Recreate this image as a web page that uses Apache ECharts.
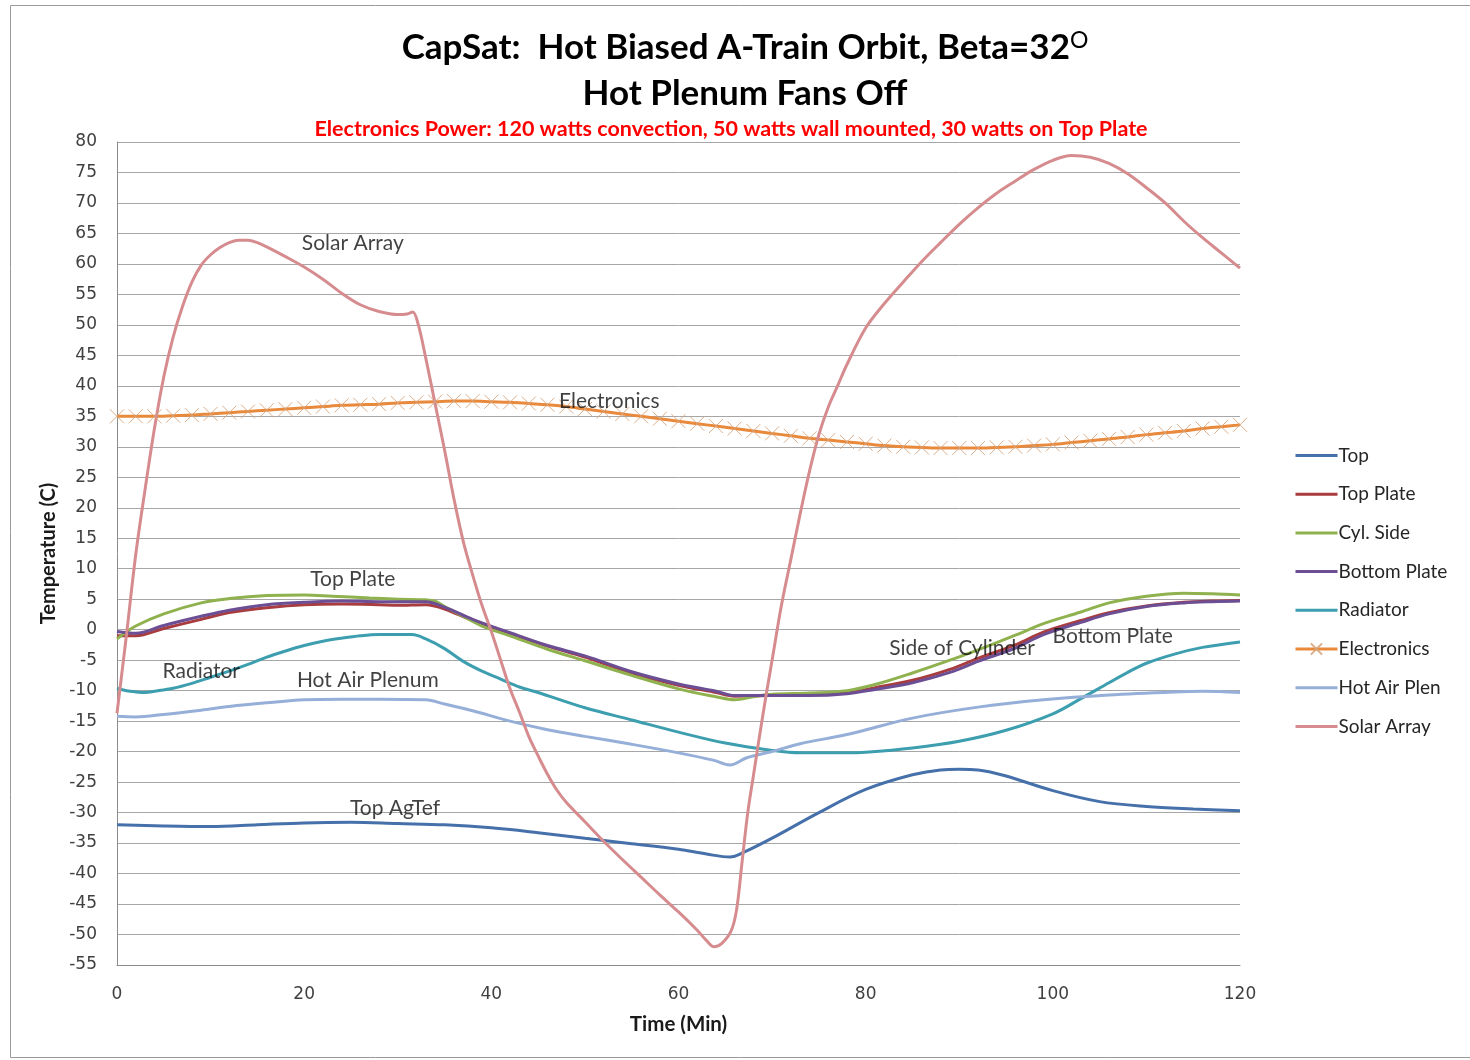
<!DOCTYPE html>
<html lang="en">
<head>
    <meta charset="UTF-8">
    <title>CapSat</title>
    <style>
        html, body { margin: 0; padding: 0; background: #fff; }
    </style>
</head>
<body>
<script src="https://cdn.jsdelivr.net/npm/echarts@6/dist/echarts.min.js"></script>
<div id="main" style="width:1470px;height:1060px;"></div>

<script type="text/javascript">
    // data (time in minutes, temperature in C)
    var topTime = [0, 5, 10, 15, 20, 25, 30, 35, 40, 45, 50, 55, 60, 63, 65.5, 67, 70, 75, 80, 85, 88, 90, 92, 95, 100, 105, 110, 115, 120];
    var topTemp = [-32.0, -32.2, -32.3, -32.0, -31.7, -31.6, -31.8, -32.0, -32.5, -33.3, -34.2, -35.1, -36.0, -36.8, -37.3, -36.5, -34.2, -30.0, -26.2, -23.8, -23.0, -22.9, -23.0, -24.0, -26.4, -28.2, -29.0, -29.4, -29.7];

    var plateTime = [0, 2, 5, 9, 12, 16, 20, 24, 28, 30, 33, 35, 38, 42, 46, 50, 55, 60, 64, 66, 70, 74, 78, 81, 85, 89, 92, 96, 99, 103, 106, 110, 114, 117, 120];
    var topPlate = [-1.0, -1.0, 0.2, 1.7, 2.8, 3.6, 4.1, 4.2, 4.1, 4.0, 4.1, 3.4, 1.5, -0.6, -2.7, -4.5, -7.1, -9.1, -10.3, -10.9, -10.8, -10.6, -10.3, -9.5, -8.3, -6.5, -4.7, -2.5, -0.4, 1.5, 2.8, 3.9, 4.5, 4.7, 4.8];
    var bottomPlate = [-0.3, -0.6, 0.7, 2.2, 3.2, 4.1, 4.5, 4.7, 4.6, 4.6, 4.6, 3.7, 1.7, -0.5, -2.6, -4.3, -6.9, -8.9, -10.1, -10.8, -10.8, -10.8, -10.5, -9.8, -8.7, -7.0, -5.2, -3.0, -0.8, 1.2, 2.6, 3.8, 4.4, 4.6, 4.7];

    var cylTime = [0, 2, 5, 9, 12, 16, 20, 23, 27, 30, 33, 34, 35, 37, 39, 42, 46, 50, 55, 60, 64, 66, 68, 70, 74, 78, 81, 85, 89, 92, 96, 99, 103, 106, 110, 114, 117, 120];
    var cylSide = [-1.5, 0.6, 2.6, 4.4, 5.1, 5.6, 5.7, 5.5, 5.2, 5.0, 4.9, 4.7, 3.8, 2.2, 0.6, -1.0, -3.2, -5.1, -7.5, -9.7, -11.0, -11.5, -11.0, -10.6, -10.4, -10.0, -9.0, -7.1, -5.0, -3.3, -0.9, 1.0, 2.9, 4.4, 5.5, 6.0, 5.9, 5.7];

    var radTime = [0, 1, 2, 3, 4, 6, 8, 10, 12, 14, 16, 18, 20, 22, 24, 26, 28, 30, 31.5, 33, 35, 37, 39, 41, 43, 45, 50, 55, 60, 65, 70, 73, 78, 80, 85, 90, 95, 100, 103, 106, 108, 110, 113, 116, 120];
    var radiator = [-9.6, -10.0, -10.2, -10.3, -10.1, -9.6, -8.8, -7.8, -6.8, -5.7, -4.5, -3.5, -2.6, -1.9, -1.4, -1.0, -0.8, -0.8, -0.8, -1.5, -3.1, -5.2, -6.8, -8.1, -9.4, -10.3, -12.8, -14.8, -16.8, -18.6, -19.8, -20.2, -20.2, -20.1, -19.4, -18.3, -16.5, -13.8, -11.3, -8.7, -7.0, -5.5, -4.0, -2.9, -2.0];

    var elecTemp = [35.0, 35.0, 35.0, 35.1, 35.2, 35.4, 35.6, 35.8, 36.0, 36.2, 36.4, 36.6, 36.8, 36.9, 37.0, 37.2, 37.3, 37.4, 37.5, 37.5,
        37.4, 37.3, 37.1, 36.9, 36.6, 36.2, 35.8, 35.4, 35.0, 34.6, 34.2, 33.8, 33.4, 33.0, 32.6, 32.2, 31.8, 31.4, 31.1, 30.8,
        30.5, 30.2, 30.0, 29.9, 29.8, 29.8, 29.8, 29.9, 30.0, 30.2, 30.4, 30.7, 31.0, 31.3, 31.6, 32.0, 32.3, 32.6, 33.0, 33.3, 33.6];
    var elecTime = elecTemp.map(function (v, i) { return i * 2; });

    var plenTime = [0, 2, 5, 9, 12, 16, 20, 24, 28, 33, 35, 38, 42, 46, 50, 55, 60, 63.7, 65.5, 67.3, 70, 73, 78, 85, 92, 99, 106, 113, 116, 120];
    var hotAir = [-14.2, -14.3, -13.9, -13.2, -12.6, -12.0, -11.5, -11.4, -11.4, -11.5, -12.2, -13.3, -15.0, -16.4, -17.5, -18.8, -20.2, -21.4, -22.2, -21.0, -20.0, -18.7, -17.2, -14.5, -12.7, -11.5, -10.7, -10.2, -10.1, -10.3];

    var solarTime = [0, 1, 2, 3, 4, 5, 6, 7, 8, 9, 10, 11, 12, 13, 14, 15, 16, 18, 20, 22, 24, 26, 28, 30, 31, 31.6, 32.2, 33, 34, 35, 36, 37, 38, 39, 40, 41, 42, 43, 44, 45, 46, 47, 48, 50, 52, 54, 56, 58, 60, 62, 63, 63.8, 64.6, 65.6, 66.2, 66.8, 67.4, 68, 68.6, 69.4, 70, 71, 72, 73, 74, 75, 76, 77, 78, 80, 82, 84, 86, 88, 90, 92, 94, 96, 98, 100, 102, 104, 106, 108, 110, 112, 114, 116, 118, 120];
    var solarArray = [-13.7, -1.0, 12.3, 23.0, 33.0, 41.5, 48.0, 53.0, 57.0, 59.8, 61.5, 62.7, 63.5, 63.9, 63.9, 63.5, 62.8, 61.2, 59.5, 57.5, 55.2, 53.3, 52.2, 51.7, 51.8, 52.1, 50.0, 44.5, 37.0, 29.5, 21.5, 14.5, 9.0, 4.0, -0.3, -5.0, -9.7, -13.5, -17.5, -20.7, -23.7, -26.3, -28.3, -31.5, -34.7, -37.7, -40.6, -43.5, -46.3, -49.3, -51.0, -52.0, -51.5, -49.5, -46.0, -38.0, -30.0, -24.0, -18.0, -10.4, -5.0, 4.0, 11.5, 19.0, 26.0, 32.0, 36.5, 40.0, 43.5, 49.5, 53.5, 57.0, 60.4, 63.5, 66.5, 69.2, 71.6, 73.6, 75.5, 77.0, 77.8, 77.5, 76.5, 74.8, 72.5, 70.0, 67.0, 64.3, 61.8, 59.3];

    // text notes inside the plot: [time, temp, text]
    var notes = [
        [25.2, 63.4, 'Solar Array'],
        [52.6, 37.5, 'Electronics'],
        [25.2, 8.2, 'Top Plate'],
        [9.0, -6.8, 'Radiator'],
        [26.8, -8.3, 'Hot Air Plenum'],
        [29.7, -29.3, 'Top AgTef'],
        [90.3, -3.0, 'Side of Cylinder'],
        [106.4, -1.0, 'Bottom Plate']
    ];

    var legendNames = ['Top', 'Top Plate', 'Cyl. Side', 'Bottom Plate', 'Radiator', 'Electronics', 'Hot Air Plen', 'Solar Array'];

    function pairs(xs, ys) {
        return xs.map(function (x, i) { return [x, ys[i]]; });
    }

    function lineSeries(name, xs, ys, color) {
        return {
            name: name,
            type: 'line',
            data: pairs(xs, ys),
            smooth: 0.35,
            symbol: 'none',
            color: color,
            lineStyle: { width: 3, color: color },
            emphasis: { disabled: true },
            animation: false
        };
    }

    var font = 'Lato';
    var myChart = echarts.init(document.getElementById('main'));

    var seriesArr = [
        lineSeries('Top', topTime, topTemp, '#4670AA'),
        lineSeries('Top Plate', plateTime, topPlate, '#A83C3E'),
        lineSeries('Cyl. Side', cylTime, cylSide, '#8FB14E'),
        lineSeries('Bottom Plate', plateTime, bottomPlate, '#6B4E93'),
        lineSeries('Radiator', radTime, radiator, '#3C9EAF'),
        {
            name: 'Electronics',
            type: 'line',
            data: pairs(elecTime, elecTemp),
            smooth: 0.35,
            symbol: 'path://M0,0 L10,10 M10,0 L0,10',
            symbolSize: 14,
            showAllSymbol: true,
            color: '#E8893C',
            itemStyle: { color: '#E8893C', borderColor: 'rgba(215,165,125,0.9)', borderWidth: 1 },
            lineStyle: { width: 3, color: '#E8893C' },
            emphasis: { disabled: true },
            animation: false
        },
        lineSeries('Hot Air Plen', plenTime, hotAir, '#96AFD8'),
        lineSeries('Solar Array', solarTime, solarArray, '#D68C8F'),
        {
            name: 'notes',
            type: 'scatter',
            data: notes.map(function (n) { return { value: [n[0], n[1]], name: n[2] }; }),
            symbolSize: 0,
            silent: true,
            z: 10,
            label: {
                show: true,
                position: 'inside',
                formatter: function (p) { return p.name; },
                fontFamily: font,
                fontSize: 21,
                color: '#111'
            },
            animation: false
        }
    ];

    option = {
        backgroundColor: '#fff',
        textStyle: { fontFamily: font },
        title: [
            {
                text: 'CapSat:  Hot Biased A-Train Orbit, Beta=32{sup|O}',
                left: 740,
                top: 24,
                textAlign: 'center',
                textStyle: {
                    fontFamily: font,
                    fontSize: 35,
                    fontWeight: 'bold',
                    color: '#000',
                    rich: {
                        sup: { fontFamily: font, fontSize: 23, fontWeight: 'normal', color: '#000', verticalAlign: 'top', padding: [0, 0, 15, 0] }
                    }
                }
            },
            {
                text: 'Hot Plenum Fans Off',
                left: 740,
                top: 71,
                textAlign: 'center',
                textStyle: { fontFamily: font, fontSize: 35, fontWeight: 'bold', color: '#000' }
            },
            {
                text: 'Electronics Power: 120 watts convection, 50 watts wall mounted, 30 watts on Top Plate',
                left: 726,
                top: 113,
                textAlign: 'center',
                textStyle: { fontFamily: font, fontSize: 21.5, fontWeight: 'bold', color: '#FF0000' }
            }
        ],
        graphic: [{
            type: 'rect',
            shape: { x: 10.5, y: 5.5, width: 1480, height: 1052 },
            style: { fill: 'none', stroke: '#9a9a9a', lineWidth: 1 },
            silent: true
        }],
        legend: {
            data: legendNames.map(function (n) {
                return n === 'Electronics' ? { name: n } : { name: n, itemStyle: { opacity: 0 } };
            }),
            orient: 'vertical',
            left: 1289,
            top: 441,
            itemWidth: 42,
            itemHeight: 14,
            itemGap: 19.7,
            selectedMode: false,
            lineStyle: { width: 3 },
            textStyle: { fontFamily: font, fontSize: 19, color: '#262626', padding: [0, 0, 0, -4] }
        },
        grid: {
            left: 117,
            right: 230,
            top: 142,
            bottom: 95
        },
        xAxis: {
            type: 'value',
            min: 0,
            max: 120,
            interval: 20,
            name: 'Time (Min)',
            nameLocation: 'middle',
            nameGap: 49,
            nameTextStyle: { fontFamily: font, fontSize: 20.5, fontWeight: 'bold', color: '#1a1a1a' },
            axisLine: { show: true, onZero: false, lineStyle: { color: '#8c8c8c', width: 1 } },
            axisTick: { show: false },
            splitLine: { show: false },
            axisLabel: { fontFamily: 'DejaVu Sans', fontSize: 17, color: '#404040', margin: 21 }
        },
        yAxis: {
            type: 'value',
            min: -55,
            max: 80,
            interval: 5,
            name: 'Temperature (C)',
            nameLocation: 'middle',
            nameGap: 57,
            nameTextStyle: { fontFamily: font, fontSize: 20, fontWeight: 'bold', color: '#1a1a1a' },
            axisLine: { show: true, lineStyle: { color: '#8c8c8c', width: 1 } },
            axisTick: { show: false },
            splitLine: { show: true, lineStyle: { color: '#a6a6a6', width: 1 } },
            axisLabel: { fontFamily: 'DejaVu Sans', fontSize: 17, color: '#404040', margin: 20 }
        },
        series: seriesArr
    };
    myChart.setOption(option);
</script>
</body>
</html>
